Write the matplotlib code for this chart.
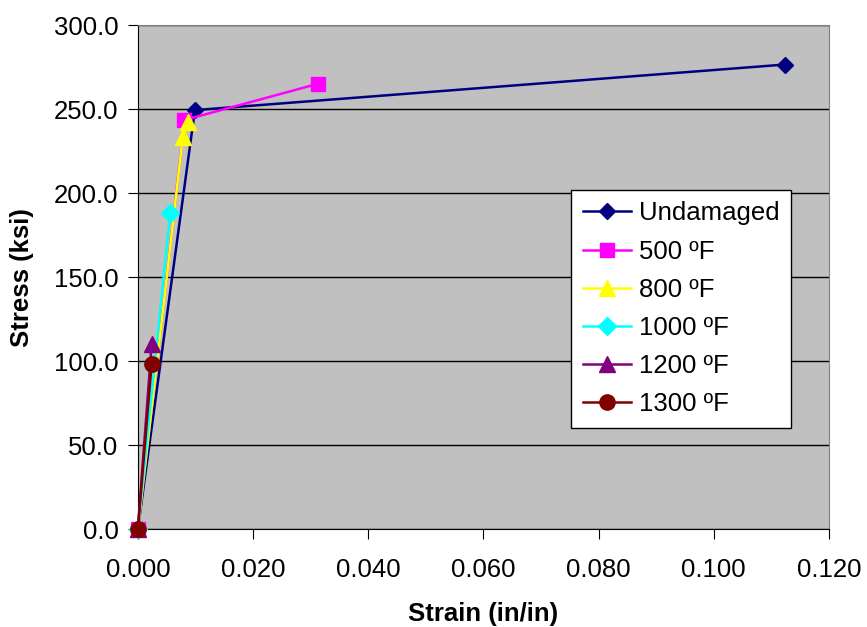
import matplotlib
matplotlib.use('Agg')
import matplotlib.pyplot as plt
from matplotlib.ticker import FormatStrFormatter

plt.rcParams['font.family'] = ['Liberation Sans', 'DejaVu Sans']

undamaged_x = [0.0, 0.0099, 0.1123]
undamaged_y = [0.0, 249.4, 276.5]
f500_x = [0.0, 0.0081, 0.0312]
f500_y = [0.0, 243.5, 265.0]
f800_x = [0.0, 0.0078, 0.0087]
f800_y = [0.0, 233.5, 242.4]
f1000_x = [0.0, 0.0056]
f1000_y = [0.0, 187.9]
f1200_x = [0.0, 0.0024]
f1200_y = [0.0, 110.5]
f1300_x = [0.0, 0.0024]
f1300_y = [0.0, 98.6]

series = [
    ('Undamaged', undamaged_x, undamaged_y, '#000080', 'D', 8),
    ('500 ºF', f500_x, f500_y, '#FF00FF', 's', 10),
    ('800 ºF', f800_x, f800_y, '#FFFF00', '^', 11),
    ('1000 ºF', f1000_x, f1000_y, '#00FFFF', 'D', 9),
    ('1200 ºF', f1200_x, f1200_y, '#800080', '^', 11),
    ('1300 ºF', f1300_x, f1300_y, '#800000', 'o', 11),
]

fig = plt.figure(figsize=(8.67, 6.27), dpi=100)
ax = fig.add_axes([0.159, 0.156, 0.797, 0.804])
ax.set_facecolor('#C0C0C0')

for label, xs, ys, color, marker, ms in series:
    ax.plot(xs, ys, color=color, marker=marker, markersize=ms, linewidth=1.8,
            label=label, clip_on=False, zorder=3)

ax.set_xlim(0, 0.12)
ax.set_ylim(0, 300)
ax.set_xticks([0, 0.02, 0.04, 0.06, 0.08, 0.1, 0.12])
ax.set_yticks(range(0, 301, 50))
ax.xaxis.set_major_formatter(FormatStrFormatter('%.3f'))
ax.yaxis.set_major_formatter(FormatStrFormatter('%.1f'))
ax.yaxis.grid(True, color='black', linewidth=1)
ax.set_axisbelow(True)
ax.tick_params(labelsize=18.5, direction='out', length=7)
ax.tick_params(axis='x', pad=14)
ax.tick_params(axis='y', pad=7)
for s in ['top', 'right']:
    ax.spines[s].set_color('#808080')
ax.spines['left'].set_color('black')
ax.spines['bottom'].set_color('black')

ax.set_xlabel('Strain (in/in)', fontsize=18.5, fontweight='bold', labelpad=14)
ax.set_ylabel('Stress (ksi)', fontsize=18.5, fontweight='bold', labelpad=14)

leg = ax.legend(loc='upper left', bbox_to_anchor=(0.627, 0.673), fontsize=18.5,
                frameon=True, fancybox=False, edgecolor='black', framealpha=1,
                borderpad=0.45, labelspacing=0.55, handlelength=1.9,
                handletextpad=0.3, borderaxespad=0)
leg.get_frame().set_linewidth(1)

fig.savefig('out.png', dpi=100)
